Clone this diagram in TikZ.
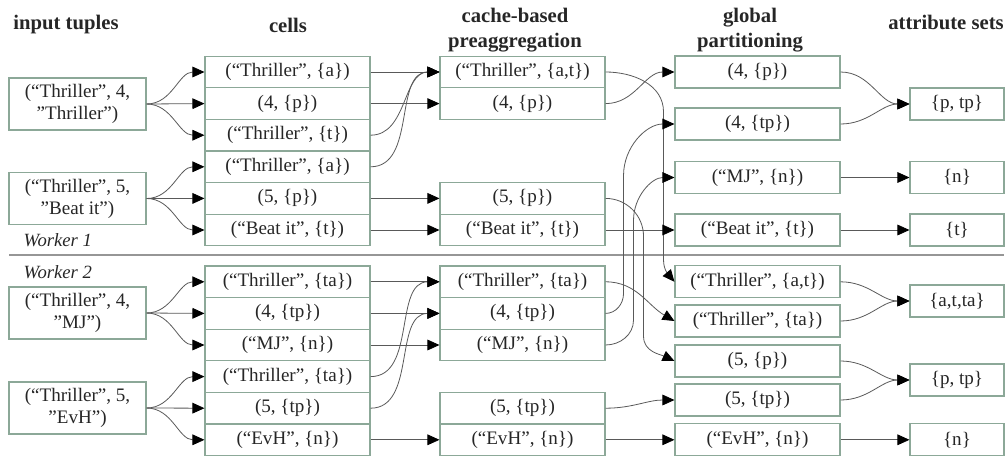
\documentclass[tikz,border=0pt]{standalone}
\usepackage{fontspec}
\setmainfont{Liberation Serif}
\usetikzlibrary{arrows.meta}
\definecolor{boxgreen}{RGB}{140,168,152}
\definecolor{rulegray}{RGB}{150,150,150}

\begin{document}
\begin{tikzpicture}[x=0.75pt,y=0.75pt,
    every node/.style={font=\fontsize{14.3}{16.5}\selectfont,text=black!85},
    tuple/.style={draw=boxgreen,line width=0.8pt,minimum width=102.75pt,minimum height=39pt,align=center,inner sep=1pt},
    cell/.style={draw=boxgreen,line width=0.8pt,minimum width=123.75pt,minimum height=23.7pt,inner sep=1pt},
    part/.style={cell,minimum height=24pt},
    attr/.style={cell,minimum width=70.5pt,minimum height=24pt},
    head/.style={font=\fontsize{15.5}{18.8}\selectfont\bfseries,align=center},
    worker/.style={font=\fontsize{14}{16}\selectfont\itshape,anchor=west},
    link/.style={-{Triangle[length=9pt,width=8pt,color=black]},draw=black!65,line width=0.6pt}]
  \useasboundingbox (0,0) rectangle (1007,-457);

  % column heads
  \path
    (66,-25) node[head] (h1) {input tuples}
    (288,-25) node[head] (h2) {cells}
    (515,-30) node[head] (h3) {cache-based\\preaggregation}
    (750,-30) node[head] (h4) {global\\partitioning}
    (946,-22) node[head] (h5) {attribute sets};

  % input tuples
  \path
    (77.5,-104) node[tuple] (t1) {(“Thriller”, 4,\\”Thriller”)}
    (77.5,-198.5) node[tuple] (t2) {(“Thriller”, 5,\\”Beat it”)}
    (77.5,-313) node[tuple] (t3) {(“Thriller”, 4,\\”MJ”)}
    (77.5,-408) node[tuple] (t4) {(“Thriller”, 5,\\”EvH”)};

  % cells
  \path
    (287.5,-72) node[cell] (c1) {(“Thriller”, \{a\})}
    (287.5,-103.6) node[cell] (c2) {(4, \{p\})}
    (287.5,-135.2) node[cell] (c3) {(“Thriller”, \{t\})}
    (287.5,-166.8) node[cell] (c4) {(“Thriller”, \{a\})}
    (287.5,-198.4) node[cell] (c5) {(5, \{p\})}
    (287.5,-230) node[cell] (c6) {(“Beat it”, \{t\})}
    (287.5,-281.8) node[cell] (c7) {(“Thriller”, \{ta\})}
    (287.5,-313.4) node[cell] (c8) {(4, \{tp\})}
    (287.5,-345) node[cell] (c9) {(“MJ”, \{n\})}
    (287.5,-376.6) node[cell] (c10) {(“Thriller”, \{ta\})}
    (287.5,-408.2) node[cell] (c11) {(5, \{tp\})}
    (287.5,-439.8) node[cell] (c12) {(“EvH”, \{n\})};

  % cache-based preaggregation
  \path
    (522.5,-72) node[cell] (p1) {(“Thriller”, \{a,t\})}
    (522.5,-103.6) node[cell] (p2) {(4, \{p\})}
    (522.5,-198.4) node[cell] (p3) {(5, \{p\})}
    (522.5,-230) node[cell] (p4) {(“Beat it”, \{t\})}
    (522.5,-281.8) node[cell] (p5) {(“Thriller”, \{ta\})}
    (522.5,-313.4) node[cell] (p6) {(4, \{tp\})}
    (522.5,-345) node[cell] (p7) {(“MJ”, \{n\})}
    (522.5,-408.2) node[cell] (p8) {(5, \{tp\})}
    (522.5,-439.8) node[cell] (p9) {(“EvH”, \{n\})};

  % global partitioning
  \path
    (757.5,-72) node[part] (g1) {(4, \{p\})}
    (757.5,-124) node[part] (g2) {(4, \{tp\})}
    (757.5,-177.5) node[part] (g3) {(“MJ”, \{n\})}
    (757.5,-230) node[part] (g4) {(“Beat it”, \{t\})}
    (757.5,-281.8) node[part] (g5) {(“Thriller”, \{a,t\})}
    (757.5,-321) node[part] (g6) {(“Thriller”, \{ta\})}
    (757.5,-361) node[part] (g7) {(5, \{p\})}
    (757.5,-400) node[part] (g8) {(5, \{tp\})}
    (757.5,-439.8) node[part] (g9) {(“EvH”, \{n\})};

  % attribute sets
  \path
    (957,-104) node[attr] (a1) {\{p, tp\}}
    (957,-177.5) node[attr] (a2) {\{n\}}
    (957,-230) node[attr] (a3) {\{t\}}
    (957,-301) node[attr] (a4) {\{a,t,ta\}}
    (957,-380) node[attr] (a5) {\{p, tp\}}
    (957,-439.8) node[attr] (a6) {\{n\}};

  % workers
  \draw[rulegray,line width=1pt] (9,-255) -- (1004,-255);
  \node[worker] (w1) at (19,-240) {Worker 1};
  \node[worker] (w2) at (19,-272) {Worker 2};

  \begin{scope}[link]
    % input tuples to cells
    \draw (t1.east) to[out=0,in=180] (c1.west);
    \draw (t1.east) -- (c2.west);
    \draw (t1.east) to[out=0,in=180] (c3.west);
    \draw (t2.east) to[out=0,in=180] (c4.west);
    \draw (t2.east) -- (c5.west);
    \draw (t2.east) to[out=0,in=180] (c6.west);
    \draw (t3.east) to[out=0,in=180] (c7.west);
    \draw (t3.east) -- (c8.west);
    \draw (t3.east) to[out=0,in=180] (c9.west);
    \draw (t4.east) to[out=0,in=180] (c10.west);
    \draw (t4.east) -- (c11.west);
    \draw (t4.east) to[out=0,in=180] (c12.west);
    % cells to preaggregation
    \draw (c1.east) -- (p1.west);
    \draw (c2.east) -- (p2.west);
    \draw (c3.east) to[out=0,in=180] (p1.west);
    \draw (c4.east) to[out=0,in=180] (p1.west);
    \draw (c5.east) -- (p3.west);
    \draw (c6.east) -- (p4.west);
    \draw (c7.east) -- (p5.west);
    \draw (c8.east) -- (p6.west);
    \draw (c9.east) -- (p7.west);
    \draw (c10.east) to[out=0,in=180] (p5.west);
    \draw (c11.east) to[out=0,in=180] (p6.west);
    \draw (c12.east) -- (p9.west);
    % preaggregation to global partitioning
    \draw (p1.east) to[out=0,in=90] ++(58,-40) -- ++(0,-148) to[out=-90,in=130] (g5.west);
    \draw (p2.east) to[out=0,in=180] (g1.west);
    \draw (p3.east) to[out=0,in=90] ++(38,-38) -- ++(0,-100) to[out=-90,in=155] (g7.west);
    \draw (p4.east) -- (g4.west);
    \draw (p5.east) to[out=0,in=150] (g6.west);
    \draw (p6.east) to[out=0,in=-90] ++(18,20) -- ++(0,118) to[out=90,in=180] (g2.west);
    \draw (p7.east) to[out=0,in=-90] ++(28,25) -- ++(0,100) to[out=90,in=180] (g3.west);
    \draw (p8.east) to[out=0,in=180] (g8.west);
    \draw (p9.east) -- (g9.west);
    % global partitioning to attribute sets
    \draw (g1.east) to[out=0,in=180] (a1.west);
    \draw (g2.east) to[out=0,in=180] (a1.west);
    \draw (g3.east) -- (a2.west);
    \draw (g4.east) -- (a3.west);
    \draw (g5.east) to[out=0,in=180] (a4.west);
    \draw (g6.east) to[out=0,in=180] (a4.west);
    \draw (g7.east) to[out=0,in=180] (a5.west);
    \draw (g8.east) to[out=0,in=180] (a5.west);
    \draw (g9.east) -- (a6.west);
  \end{scope}
\end{tikzpicture}
\end{document}
